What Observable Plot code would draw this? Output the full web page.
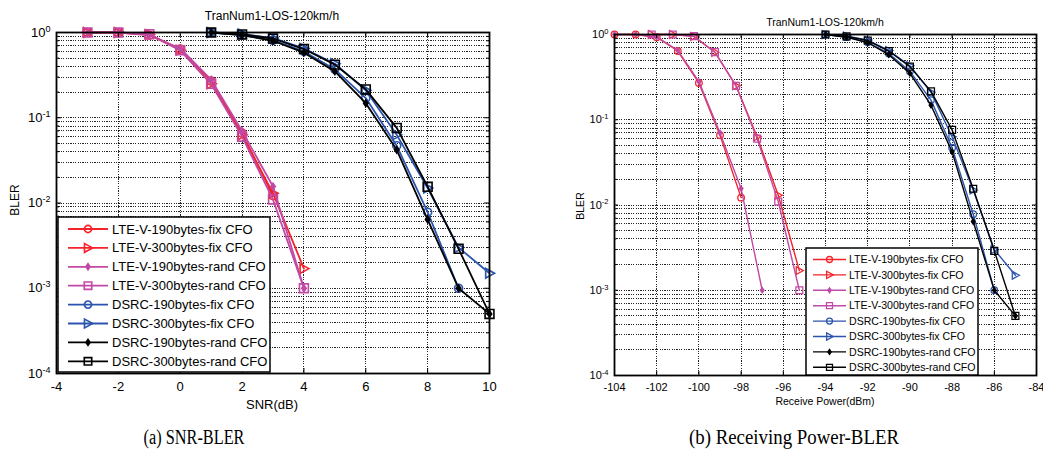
<!DOCTYPE html>
<html><head><meta charset="utf-8">
<script src="https://cdn.jsdelivr.net/npm/d3@7"></script>
<script src="https://cdn.jsdelivr.net/npm/@observablehq/plot@0.6"></script>
<style>
body{margin:0;background:#fff;}
#root{position:relative;width:1043px;height:460px;overflow:hidden;background:#fff;}
#root > svg, #root > div{position:absolute;}
</style></head><body><div id="root"></div>
<script>
// ---------- data ----------
const snrLTE = [-3, -2, -1, 0, 1, 2, 3, 4];
const powerLTE190 = [-104, -103, -102, -101, -100, -99, -98, -97];
const powerLTE300 = [-102.24, -101.24, -100.24, -99.24, -98.24, -97.24, -96.24, -95.24];
const snrDSRC = [1, 2, 3, 4, 5, 6, 7, 8, 9, 10];
const powerDSRC = [-94, -93, -92, -91, -90, -89, -88, -87, -86, -85];

const blerLTE190fix  = [1.0, 1.0, 0.93, 0.64, 0.27, 0.066, 0.0122];
const blerLTE300fix  = [1.0, 1.0, 0.95, 0.62, 0.25, 0.063, 0.013, 0.0017];
const blerLTE190rand = [1.0, 1.0, 0.94, 0.65, 0.28, 0.07, 0.0156, 0.001];
const blerLTE300rand = [1.0, 1.0, 0.955, 0.62, 0.25, 0.06, 0.011, 0.001];
const blerDSRC190fix  = [1.0, 0.93, 0.81, 0.6, 0.37, 0.17, 0.047, 0.0078, 0.001];
const blerDSRC300fix  = [1.0, 0.96, 0.86, 0.65, 0.43, 0.21, 0.063, 0.015, 0.003, 0.0015];
const blerDSRC190rand = [1.0, 0.93, 0.8, 0.58, 0.35, 0.148, 0.042, 0.0064, 0.001, 0.0005];
const blerDSRC300rand = [1.0, 0.95, 0.85, 0.64, 0.42, 0.215, 0.076, 0.0155, 0.0029, 0.0005];

const seriesNames = [
  "LTE-V-190bytes-fix CFO", "LTE-V-300bytes-fix CFO",
  "LTE-V-190bytes-rand CFO", "LTE-V-300bytes-rand CFO",
  "DSRC-190bytes-fix CFO", "DSRC-300bytes-fix CFO",
  "DSRC-190bytes-rand CFO", "DSRC-300bytes-rand CFO"
];

const yMajorTicks = [1e-4, 1e-3, 1e-2, 1e-1, 1];
const yTickLabels = ["10^-4", "10^-3", "10^-2", "10^-1", "10^0"];
const xTicksSNR = [-4, -2, 0, 2, 4, 6, 8, 10];
const xTicksPower = [-104, -102, -100, -98, -96, -94, -92, -90, -88, -86, -84];

const titleText = "TranNum1-LOS-120km/h";
const yLabelText = "BLER";
const xLabelLeft = "SNR(dB)";
const xLabelRight = "Receive Power(dBm)";
const captionLeft = "(a) SNR-BLER";
const captionRight = "(b) Receiving Power-BLER";

// ---------- styling ----------
const RED = "#f5222a", MAG = "#c04aa6", BLUE = "#2b55ad", BLACK = "#000";
const triRight = {draw(ctx, size){const r=Math.sqrt(size/Math.PI); ctx.moveTo(r*1.05,0); ctx.lineTo(-r*0.8,-r); ctx.lineTo(-r*0.8,r); ctx.closePath();}};
const diamond = {draw(ctx, size){const r=Math.sqrt(size/Math.PI); ctx.moveTo(0,-r*1.25); ctx.lineTo(r*0.85,0); ctx.lineTo(0,r*1.25); ctx.lineTo(-r*0.85,0); ctx.closePath();}};
const circ = d3.symbolCircle, sq = d3.symbolSquare;

const series = [
  {name: seriesNames[0], color: RED,   sym: circ,     kind: "c", fill: false, bler: blerLTE190fix,  xl: snrLTE,  xr: powerLTE190},
  {name: seriesNames[1], color: RED,   sym: triRight, kind: "t", fill: false, bler: blerLTE300fix,  xl: snrLTE,  xr: powerLTE300},
  {name: seriesNames[2], color: MAG,   sym: diamond,  kind: "d", fill: true,  bler: blerLTE190rand, xl: snrLTE,  xr: powerLTE190},
  {name: seriesNames[3], color: MAG,   sym: sq,       kind: "s", fill: false, bler: blerLTE300rand, xl: snrLTE,  xr: powerLTE300},
  {name: seriesNames[4], color: BLUE,  sym: circ,     kind: "c", fill: false, bler: blerDSRC190fix,  xl: snrDSRC, xr: powerDSRC},
  {name: seriesNames[5], color: BLUE,  sym: triRight, kind: "t", fill: false, bler: blerDSRC300fix,  xl: snrDSRC, xr: powerDSRC},
  {name: seriesNames[6], color: BLACK, sym: diamond,  kind: "d", fill: true,  bler: blerDSRC190rand, xl: snrDSRC, xr: powerDSRC},
  {name: seriesNames[7], color: BLACK, sym: sq,       kind: "s", fill: false, bler: blerDSRC300rand, xl: snrDSRC, xr: powerDSRC}
];

const yMinor = [];
for (let e = -4; e < 0; e++) for (let m = 2; m <= 9; m++) yMinor.push(m * Math.pow(10, e));
const yGrid = yMinor.concat(yMajorTicks.slice(1, -1));

const root = document.getElementById("root");

function buildPlot(o) {
  const plotW = o.width - o.ml - o.mr, plotH = o.height - o.mt - o.mb;
  const dash = {stroke: "#000", strokeWidth: 1, strokeDasharray: "1.2,1.2", strokeOpacity: 0.85, shapeRendering: "crispEdges"};
  const marks = [
    Plot.ruleY(yGrid, dash),
    Plot.ruleX(o.xTicks.slice(1, -1), dash)
  ];
  for (const s of series) {
    const xs = o.side === "left" ? s.xl : s.xr;
    const rows = s.bler.map((b, i) => ({x: xs[i], y: b}));
    marks.push(Plot.line(rows, {x: "x", y: "y", stroke: s.color, strokeWidth: o.lw}));
    marks.push(Plot.dot(rows, {x: "x", y: "y", symbol: s.sym, r: o.sizes[s.kind],
      stroke: s.color, fill: s.fill ? s.color : "none", strokeWidth: o.lw * 0.9}));
  }
  const tk = {stroke: "#000", strokeWidth: 1};
  marks.push(
    Plot.tickY(yMajorTicks, {y: d => d, insetRight: plotW - o.tl, ...tk}),
    Plot.tickY(yMajorTicks, {y: d => d, insetLeft: plotW - o.tl, ...tk}),
    Plot.tickY(yMinor, {y: d => d, insetRight: plotW - o.tl * 0.6, ...tk}),
    Plot.tickY(yMinor, {y: d => d, insetLeft: plotW - o.tl * 0.6, ...tk}),
    Plot.tickX(o.xTicks, {x: d => d, insetTop: plotH - o.tl, ...tk}),
    Plot.tickX(o.xTicks, {x: d => d, insetBottom: plotH - o.tl, ...tk}),
    Plot.frame({stroke: "#000", strokeWidth: 1.8}),
    Plot.axisY({ticks: yMajorTicks, tickSize: 0, tickPadding: o.ypad, label: null,
      tickFormat: d => yTickLabels[yMajorTicks.indexOf(d)]}),
    Plot.axisX({ticks: o.xTicks, tickSize: 0, tickPadding: o.xpad, label: null, tickFormat: d => String(d)})
  );
  const svg = Plot.plot({
    width: o.width, height: o.height,
    marginLeft: o.ml, marginRight: o.mr, marginTop: o.mt, marginBottom: o.mb,
    x: {domain: o.xDomain, label: null},
    y: {type: "log", domain: [1e-4, 1], label: null},
    style: {fontFamily: '"Liberation Sans", Arial, sans-serif', fontSize: o.fs + "px", color: "#000", background: "transparent", overflow: "visible"},
    marks
  });
  // superscripts
  d3.select(svg).selectAll('[aria-label="y-axis tick label"] text').each(function () {
    const t = this.textContent;
    if (!t.includes("^")) return;
    const [base, exp] = t.split("^");
    const sel = d3.select(this);
    sel.text(null);
    sel.append("tspan").text(base);
    sel.append("tspan").attr("dy", "-0.55em").attr("font-size", o.sup + "px").text(exp);
  });
  svg.style.left = o.left + "px";
  svg.style.top = "0px";
  return svg;
}

root.appendChild(buildPlot({
  side: "left", left: 0, width: 520, height: 420, ml: 56, mr: 31, mt: 32, mb: 47,
  xDomain: [-4, 10], xTicks: xTicksSNR, fs: 13, sup: 9, lw: 1.8, tl: 5, ypad: 6, xpad: 8,
  sizes: {c: 4, t: 4.8, d: 2.6, s: 5}
}));
root.appendChild(buildPlot({
  side: "right", left: 520, width: 523, height: 420, ml: 94, mr: 7, mt: 34, mb: 45,
  xDomain: [-104, -84], xTicks: xTicksPower, fs: 11, sup: 7.5, lw: 1.4, tl: 4, ypad: 6, xpad: 8,
  sizes: {c: 3.3, t: 3.9, d: 2.2, s: 3.9}
}));

// ---------- overlay: texts and legends ----------
const ov = d3.select(root).append("svg").attr("width", 1043).attr("height", 460)
  .style("left", "0px").style("top", "0px")
  .attr("font-family", '"Liberation Sans", Arial, sans-serif');

function txt(s, x, y, size, opts = {}) {
  const t = ov.append("text").attr("x", x).attr("y", y).attr("font-size", size)
    .attr("text-anchor", opts.anchor || "middle").attr("fill", "#000").text(s);
  if (opts.rotate) t.attr("transform", `rotate(${opts.rotate},${x},${y})`);
  if (opts.family) t.attr("font-family", opts.family);
  if (opts.len) t.attr("textLength", opts.len).attr("lengthAdjust", "spacingAndGlyphs");
  return t;
}
txt(titleText, 272, 20, 12);
txt(titleText, 825, 26, 10.5);
txt(yLabelText, 19, 200, 12, {rotate: -90});
txt(yLabelText, 584, 206, 10.5, {rotate: -90});
txt(xLabelLeft, 272, 409, 13);
txt(xLabelRight, 825, 405, 10.5);
txt(captionLeft, 194, 444, 20, {family: '"Liberation Serif", "Times New Roman", serif', len: 101});
txt(captionRight, 794, 444, 20, {family: '"Liberation Serif", "Times New Roman", serif', len: 210});

function legend(L) {
  ov.append("rect").attr("x", L.x).attr("y", L.y).attr("width", L.w).attr("height", L.h)
    .attr("fill", "#fff").attr("stroke", "#000").attr("stroke-width", 1.5);
  series.forEach((s, i) => {
    const cy = L.y0 + i * L.dy;
    ov.append("line").attr("x1", L.lx1).attr("x2", L.lx2).attr("y1", cy).attr("y2", cy)
      .attr("stroke", s.color).attr("stroke-width", L.lw);
    const r = L.sizes[s.kind];
    ov.append("path").attr("d", d3.symbol(s.sym, Math.PI * r * r)())
      .attr("transform", `translate(${(L.lx1 + L.lx2) / 2},${cy})`)
      .attr("stroke", s.color).attr("stroke-width", L.lw * 0.9)
      .attr("fill", s.fill ? s.color : "none");
    ov.append("text").attr("x", L.tx).attr("y", cy).attr("dy", "0.35em")
      .attr("font-size", L.fs).attr("fill", "#000").text(s.name);
  });
}
legend({x: 58, y: 217, w: 212, h: 155, y0: 229, dy: 18.9, lx1: 68, lx2: 108, tx: 112, fs: 13, lw: 1.8,
  sizes: {c: 3.6, t: 4.4, d: 2.4, s: 4.2}});
legend({x: 806, y: 248, w: 172, h: 127, y0: 259.5, dy: 15.4, lx1: 813, lx2: 846, tx: 849, fs: 10.6, lw: 1.4,
  sizes: {c: 3, t: 3.6, d: 2, s: 3.4}});
</script></body></html>
